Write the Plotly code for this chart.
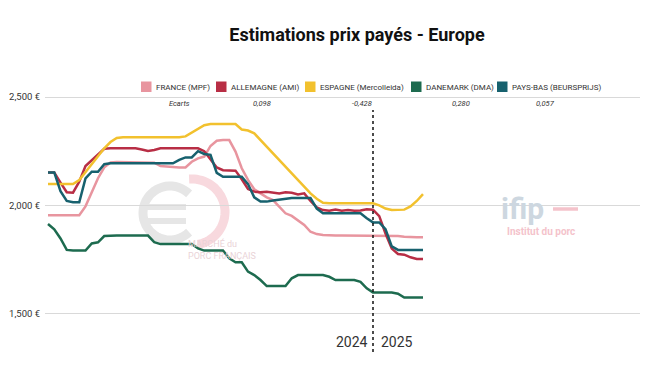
import math
import plotly.graph_objects as go

# ---------------- data (weekly index: 0 = first week of 2024) ----------------
semaines = list(range(61))

france = [1954, 1954, 1954, 1954, 1954, 1954, 1995, 2060, 2125, 2175,
          2198, 2200, 2200, 2200, 2200, 2200, 2200, 2197, 2181, 2178,
          2176, 2175, 2175, 2201, 2217, 2225, 2274, 2298, 2301, 2301,
          2248, 2171, 2117, 2074, 2055, 2037, 2024, 1991, 1963, 1951,
          1929, 1909, 1878, 1867, 1863, 1860, 1860, 1860, 1860, 1860,
          1860, 1860, 1860, 1860, 1860, 1860, 1858, 1855, 1852, 1852, 1852]

allemagne = [2152, 2152, 2105, 2060, 2058, 2109, 2181, 2209, 2237, 2261,
             2263, 2263, 2263, 2263, 2263, 2258, 2251, 2255, 2263, 2263,
             2263, 2263, 2263, 2263, 2263, 2250, 2215, 2175, 2162, 2160,
             2160, 2120, 2075, 2063, 2060, 2063, 2058, 2055, 2060, 2058,
             2050, 2055, 2020, 1990, 1978, 1975, 1980, 1975, 1978, 1975,
             1976, 1982, 1980, 1950, 1870, 1800, 1775, 1772, 1760, 1752, 1752]

espagne = [2098, 2098, 2098, 2098, 2098, 2117, 2154, 2189, 2226, 2263,
           2292, 2311, 2314, 2314, 2314, 2314, 2314, 2314, 2314, 2314,
           2314, 2314, 2318, 2335, 2355, 2370, 2375, 2375, 2375, 2375,
           2375, 2350, 2345, 2332, 2301, 2270, 2240, 2209, 2178, 2148,
           2117, 2086, 2055, 2030, 2012, 2009, 2009, 2009, 2009, 2009,
           2009, 2009, 2009, 2000, 1985, 1978, 1978, 1980, 1995, 2020, 2052]

danemark = [1914, 1889, 1847, 1794, 1791, 1791, 1791, 1824, 1829, 1858,
            1860, 1860, 1860, 1860, 1860, 1860, 1860, 1830, 1821, 1821,
            1821, 1821, 1821, 1821, 1801, 1791, 1791, 1791, 1791, 1755,
            1737, 1737, 1694, 1678, 1655, 1627, 1627, 1627, 1627, 1663,
            1678, 1678, 1678, 1678, 1678, 1670, 1655, 1655, 1655, 1655,
            1647, 1617, 1597, 1597, 1597, 1597, 1592, 1574, 1574, 1574, 1574]

pays_bas = [2152, 2152, 2065, 2020, 2014, 2014, 2124, 2155, 2155, 2190,
            2194, 2194, 2194, 2194, 2194, 2194, 2194, 2194, 2194, 2194,
            2194, 2210, 2221, 2221, 2250, 2237, 2233, 2150, 2132, 2132,
            2132, 2132, 2098, 2037, 2017, 2017, 2022, 2026, 2030, 2034,
            2034, 2034, 2034, 1985, 1963, 1963, 1963, 1963, 1963, 1963,
            1963, 1940, 1921, 1921, 1890, 1810, 1794, 1794, 1794, 1794, 1794]

noms = ["FRANCE (MPF)", "ALLEMAGNE (AMI)", "ESPAGNE (Mercolleida)",
        "DANEMARK (DMA)", "PAYS-BAS (BEURSPRIJS)"]
ecarts = ["Ecarts", "0,098", "-0,428", "0,280", "0,057"]
y_ticks = [1500, 2000, 2500]
y_tick_labels = ["1,500 €", "2,000 €", "2,500 €"]
annees = ["2024", "2025"]
debut_2025 = 52

# ---------------- styling ----------------
couleurs = ["#E8959F", "#B82E45", "#F2C12E", "#1D6B4F", "#17616E"]
valeurs = [france, allemagne, espagne, danemark, pays_bas]

W, H = 650, 366
L, R, T, B = 45, 10, 88, 11
PW, PH = W - L - R, H - T - B


def px(xp):
    return (xp - L) / PW


def py(yp):
    return (H - B - yp) / PH


fig = go.Figure()
for nom, vals, col in zip(noms, valeurs, couleurs):
    fig.add_trace(go.Scatter(x=semaines, y=vals, mode="lines", name=nom,
                             line=dict(color=col, width=2.5),
                             showlegend=False, hoverinfo="skip"))

font_main = "Roboto, 'Open Sans', Arial, sans-serif"
anns = []
shapes = []


def arc_path(r, a0, a1, n=40):
    pts = []
    for k in range(n + 1):
        a = math.radians(a0 + (a1 - a0) * k / n)
        pts.append(f"{r * math.cos(a):.1f},{r * math.sin(a):.1f}")
    return "M " + " L ".join(pts)


# watermark: euro logo (drawn as faint strokes)
shapes.append(dict(type="path", xref="paper", yref="paper", xsizemode="pixel", ysizemode="pixel",
                   xanchor=px(170), yanchor=py(213), path=arc_path(27, 45, 315),
                   line=dict(color="#E6E6E6", width=9), layer="below"))
for yb in (207, 221):
    shapes.append(dict(type="line", xref="paper", yref="paper", x0=px(141), x1=px(186),
                       y0=py(yb), y1=py(yb), line=dict(color="#E6E6E6", width=6), layer="below"))
shapes.append(dict(type="path", xref="paper", yref="paper", xsizemode="pixel", ysizemode="pixel",
                   xanchor=px(192), yanchor=py(212), path=arc_path(33, 95, -80),
                   line=dict(color="#F8D9DE", width=9), layer="below"))
anns.append(dict(text="MARCHÉ du<br>PORC FRANÇAIS", x=px(186), y=py(250), xref="paper", yref="paper",
                 showarrow=False, align="left",
                 font=dict(size=9, color="#EAD3D7", family=font_main),
                 xanchor="left", yanchor="middle"))
# watermark: ifip logo
anns.append(dict(text="<b>ifip</b>", x=px(522), y=py(208), xref="paper", yref="paper",
                 showarrow=False, font=dict(size=30, color="#CDD7E0", family=font_main),
                 xanchor="center", yanchor="middle"))
shapes.append(dict(type="line", xref="paper", yref="paper", x0=px(553), x1=px(578),
                   y0=py(209), y1=py(209), line=dict(color="#F4C3CB", width=3.5)))
anns.append(dict(text="<b>Institut du porc</b>", x=px(541), y=py(231), xref="paper", yref="paper",
                 showarrow=False, font=dict(size=10, color="#F4C3CB", family=font_main),
                 xanchor="center", yanchor="middle"))

# custom legend (square swatches) and "Ecarts" row
sw_left = [141, 216, 305, 411, 497]
txt_left = [154, 229, 318, 424, 510]
ecart_x = [179, 262, 362, 461, 545]
for nom, col, sx, tx, ex, ec in zip(noms, couleurs, sw_left, txt_left, ecart_x, ecarts):
    shapes.append(dict(type="rect", xref="paper", yref="paper",
                       x0=px(sx), x1=px(sx + 10.5), y0=py(92), y1=py(81.5),
                       fillcolor=col, line=dict(width=0)))
    anns.append(dict(text=nom, x=px(tx), y=py(87), xref="paper", yref="paper",
                     showarrow=False, xanchor="left", yanchor="middle",
                     font=dict(size=8, color="#333333", family=font_main)))
    anns.append(dict(text=f"<i>{ec}</i>", x=px(ex), y=py(103), xref="paper", yref="paper",
                     showarrow=False, xanchor="center", yanchor="middle",
                     font=dict(size=7.5, color="#333333", family=font_main)))

# year separator and labels
shapes.append(dict(type="line", xref="x", yref="paper", x0=debut_2025, x1=debut_2025,
                   y0=py(352), y1=py(110), line=dict(color="#111111", width=1.5, dash="dot")))
anns.append(dict(text=annees[0], x=px(352), y=py(342), xref="paper", yref="paper",
                 showarrow=False, xanchor="center", yanchor="middle",
                 font=dict(size=14, color="#333333", family=font_main)))
anns.append(dict(text=annees[1], x=px(397), y=py(342), xref="paper", yref="paper",
                 showarrow=False, xanchor="center", yanchor="middle",
                 font=dict(size=14, color="#333333", family=font_main)))

v_per_px = 500 / 108.3
y_top = 2500 + (97 - T) * v_per_px
y_bot = 2500 - ((H - B) - 97) * v_per_px
x_left = (L - 48) / 6.25
x_right = (W - R - 48) / 6.25

fig.update_layout(
    width=W, height=H,
    margin=dict(l=L, r=R, t=T, b=B),
    paper_bgcolor="white", plot_bgcolor="white",
    title=dict(text="Estimations prix payés - Europe", x=357 / W, xanchor="center",
               y=1 - 35 / H, yanchor="middle", xref="container", yref="container",
               font=dict(size=18, color="#111111", family=font_main, weight=700)),
    xaxis=dict(range=[x_left, x_right], showgrid=False, zeroline=False, automargin=False,
               showticklabels=False, ticks="", showline=False),
    yaxis=dict(range=[y_bot, y_top], tickvals=y_ticks, ticktext=y_tick_labels, automargin=False,
               showgrid=True, gridcolor="#D9D9D9", gridwidth=1, zeroline=False,
               ticks="", showline=False, ticklabelstandoff=4,
               tickfont=dict(size=9.5, color="#333333", family=font_main)),
    annotations=anns, shapes=shapes,
    showlegend=False,
)

fig.write_html("out.html", config={"displayModeBar": False},
               post_script="document.body.style.margin='0';document.body.style.padding='0';")
